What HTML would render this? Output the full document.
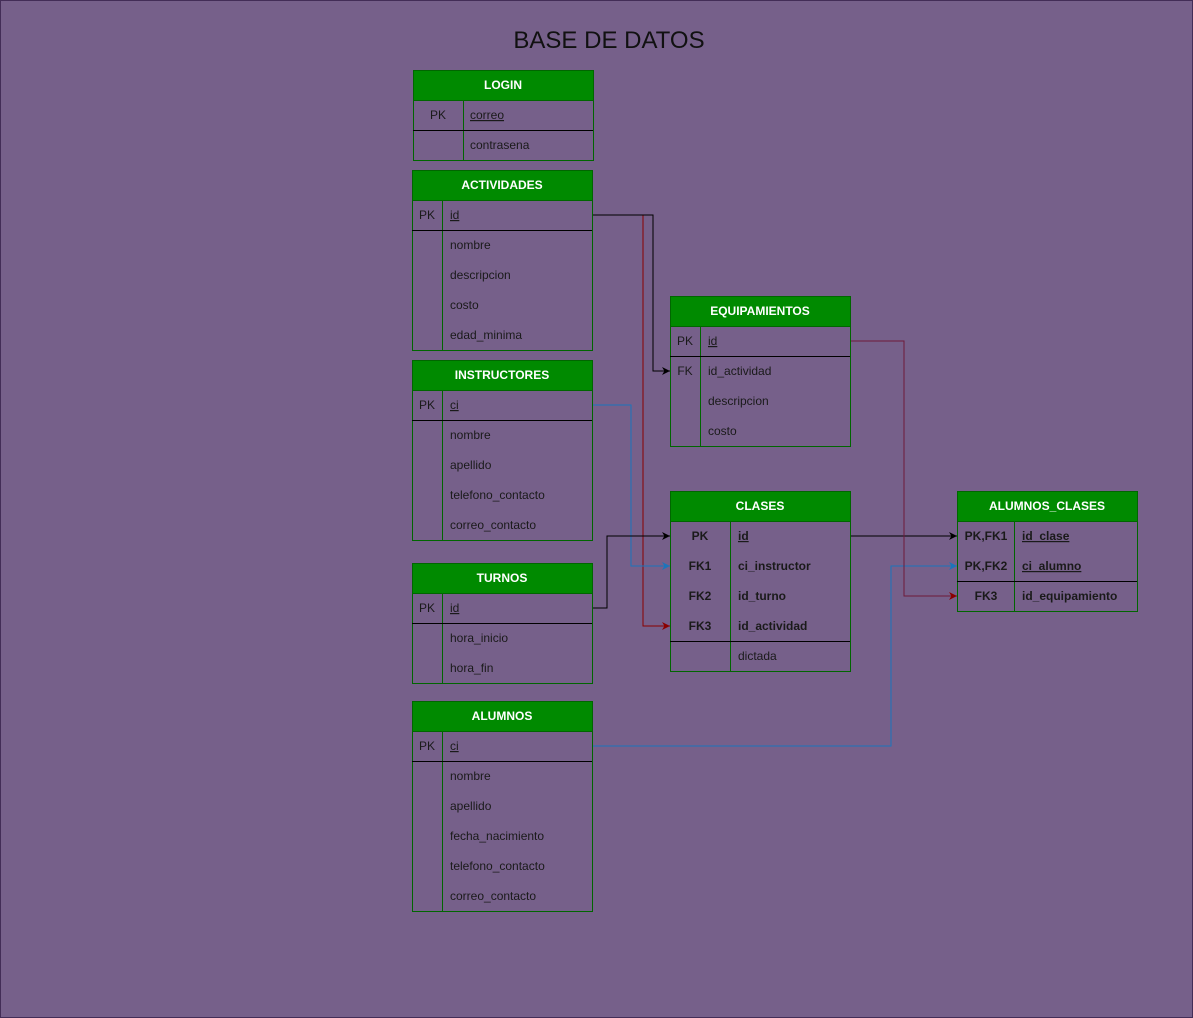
<!DOCTYPE html>
<html><head><meta charset="utf-8"><style>
html,body{margin:0;padding:0;background:#76608a;}
svg{display:block;}
text{font-family:"Liberation Sans",sans-serif;font-size:12px;fill:#1a1a1a;}
.h{fill:#fff;font-weight:bold;text-anchor:middle;}
.k{text-anchor:middle;}
.b{font-weight:bold;}
.u{text-decoration:underline;}
</style></head><body>
<svg width="1193" height="1018" viewBox="0 0 1193 1018" xmlns="http://www.w3.org/2000/svg">
<defs>
<marker id="ab" viewBox="0 0 10 10" refX="10" refY="5" markerWidth="8" markerHeight="8" orient="auto" markerUnits="userSpaceOnUse"><path d="M0,0 L10,5 L0,10 L3,5 z" fill="#000"/></marker>
<marker id="ar" viewBox="0 0 10 10" refX="10" refY="5" markerWidth="8" markerHeight="8" orient="auto" markerUnits="userSpaceOnUse"><path d="M0,0 L10,5 L0,10 L3,5 z" fill="#8b0000"/></marker>
<marker id="au" viewBox="0 0 10 10" refX="10" refY="5" markerWidth="8" markerHeight="8" orient="auto" markerUnits="userSpaceOnUse"><path d="M0,0 L10,5 L0,10 L3,5 z" fill="#1b75bc"/></marker>
</defs>
<rect x="0.5" y="0.5" width="1192" height="1017" fill="#76608a" stroke="#432d57"/>
<text x="609" y="48" style="font-size:24px;fill:#111" text-anchor="middle">BASE DE DATOS</text>

<!-- connectors -->
<g fill="none" stroke-width="1">
<polyline points="643,215 643,626 670,626" stroke="#8b0000" marker-end="url(#ar)"/>
<polyline points="593,215 653,215 653,371 670,371" stroke="#000" marker-end="url(#ab)"/>
<polyline points="593,405 631,405 631,566 670,566" stroke="#1b75bc" marker-end="url(#au)"/>
<polyline points="593,608 607,608 607,536 670,536" stroke="#000" marker-end="url(#ab)"/>
<polyline points="850,536 957,536" stroke="#000" marker-end="url(#ab)"/>
<polyline points="593,746 891,746 891,566 957,566" stroke="#1b75bc" marker-end="url(#au)"/>
<polyline points="850,341 904,341 904,596 957,596" stroke="#6e1a3a" marker-end="url(#ar)"/>
</g>

<!-- LOGIN -->
<g>
<rect x="413.5" y="70.5" width="180" height="90" fill="none" stroke="#006600"/>
<rect x="413.5" y="70.5" width="180" height="30" fill="#008a00" stroke="#006600"/>
<line x1="463.5" y1="100" x2="463.5" y2="160" stroke="#006600"/>
<line x1="413" y1="130.5" x2="593" y2="130.5" stroke="#000"/>
<text class="h" x="503" y="89">LOGIN</text>
<text class="k" x="438" y="119">PK</text><text class="u" x="470" y="119">correo</text>
<text x="470" y="149">contrasena</text>
</g>

<!-- ACTIVIDADES -->
<g>
<rect x="412.5" y="170.5" width="180" height="180" fill="none" stroke="#006600"/>
<rect x="412.5" y="170.5" width="180" height="30" fill="#008a00" stroke="#006600"/>
<line x1="442.5" y1="200" x2="442.5" y2="350" stroke="#006600"/>
<line x1="412" y1="230.5" x2="592" y2="230.5" stroke="#000"/>
<text class="h" x="502" y="189">ACTIVIDADES</text>
<text class="k" x="427" y="219">PK</text><text class="u" x="450" y="219">id</text>
<text x="450" y="249">nombre</text><text x="450" y="279">descripcion</text><text x="450" y="309">costo</text><text x="450" y="339">edad_minima</text>
</g>

<!-- INSTRUCTORES -->
<g>
<rect x="412.5" y="360.5" width="180" height="180" fill="none" stroke="#006600"/>
<rect x="412.5" y="360.5" width="180" height="30" fill="#008a00" stroke="#006600"/>
<line x1="442.5" y1="390" x2="442.5" y2="540" stroke="#006600"/>
<line x1="412" y1="420.5" x2="592" y2="420.5" stroke="#000"/>
<text class="h" x="502" y="379">INSTRUCTORES</text>
<text class="k" x="427" y="409">PK</text><text class="u" x="450" y="409">ci</text>
<text x="450" y="439">nombre</text><text x="450" y="469">apellido</text><text x="450" y="499">telefono_contacto</text><text x="450" y="529">correo_contacto</text>
</g>

<!-- TURNOS -->
<g>
<rect x="412.5" y="563.5" width="180" height="120" fill="none" stroke="#006600"/>
<rect x="412.5" y="563.5" width="180" height="30" fill="#008a00" stroke="#006600"/>
<line x1="442.5" y1="593" x2="442.5" y2="683" stroke="#006600"/>
<line x1="412" y1="623.5" x2="592" y2="623.5" stroke="#000"/>
<text class="h" x="502" y="582">TURNOS</text>
<text class="k" x="427" y="612">PK</text><text class="u" x="450" y="612">id</text>
<text x="450" y="642">hora_inicio</text><text x="450" y="672">hora_fin</text>
</g>

<!-- ALUMNOS -->
<g>
<rect x="412.5" y="701.5" width="180" height="210" fill="none" stroke="#006600"/>
<rect x="412.5" y="701.5" width="180" height="30" fill="#008a00" stroke="#006600"/>
<line x1="442.5" y1="731" x2="442.5" y2="911" stroke="#006600"/>
<line x1="412" y1="761.5" x2="592" y2="761.5" stroke="#000"/>
<text class="h" x="502" y="720">ALUMNOS</text>
<text class="k" x="427" y="750">PK</text><text class="u" x="450" y="750">ci</text>
<text x="450" y="780">nombre</text><text x="450" y="810">apellido</text><text x="450" y="840">fecha_nacimiento</text><text x="450" y="870">telefono_contacto</text><text x="450" y="900">correo_contacto</text>
</g>

<!-- EQUIPAMIENTOS -->
<g>
<rect x="670.5" y="296.5" width="180" height="150" fill="none" stroke="#006600"/>
<rect x="670.5" y="296.5" width="180" height="30" fill="#008a00" stroke="#006600"/>
<line x1="700.5" y1="326" x2="700.5" y2="446" stroke="#006600"/>
<line x1="670" y1="356.5" x2="850" y2="356.5" stroke="#000"/>
<text class="h" x="760" y="315">EQUIPAMIENTOS</text>
<text class="k" x="685" y="345">PK</text><text class="u" x="708" y="345">id</text>
<text class="k" x="685" y="375">FK</text><text x="708" y="375">id_actividad</text>
<text x="708" y="405">descripcion</text><text x="708" y="435">costo</text>
</g>

<!-- CLASES -->
<g>
<rect x="670.5" y="491.5" width="180" height="180" fill="none" stroke="#006600"/>
<rect x="670.5" y="491.5" width="180" height="30" fill="#008a00" stroke="#006600"/>
<line x1="730.5" y1="521" x2="730.5" y2="671" stroke="#006600"/>
<line x1="670" y1="641.5" x2="850" y2="641.5" stroke="#000"/>
<text class="h" x="760" y="510">CLASES</text>
<text class="k b" x="700" y="540">PK</text><text class="u b" x="738" y="540">id</text>
<text class="k b" x="700" y="570">FK1</text><text class="b" x="738" y="570">ci_instructor</text>
<text class="k b" x="700" y="600">FK2</text><text class="b" x="738" y="600">id_turno</text>
<text class="k b" x="700" y="630">FK3</text><text class="b" x="738" y="630">id_actividad</text>
<text x="738" y="660">dictada</text>
</g>

<!-- ALUMNOS_CLASES -->
<g>
<rect x="957.5" y="491.5" width="180" height="120" fill="none" stroke="#006600"/>
<rect x="957.5" y="491.5" width="180" height="30" fill="#008a00" stroke="#006600"/>
<line x1="1014.5" y1="521" x2="1014.5" y2="611" stroke="#006600"/>
<line x1="957" y1="581.5" x2="1137" y2="581.5" stroke="#000"/>
<text class="h" x="1047" y="510">ALUMNOS_CLASES</text>
<text class="k b" x="986" y="540">PK,FK1</text><text class="u b" x="1022" y="540">id_clase</text>
<text class="k b" x="986" y="570">PK,FK2</text><text class="u b" x="1022" y="570">ci_alumno</text>
<text class="k b" x="986" y="600">FK3</text><text class="b" x="1022" y="600">id_equipamiento</text>
</g>
</svg>
</body></html>
